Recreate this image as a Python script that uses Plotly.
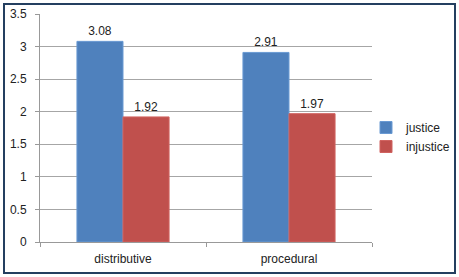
import plotly.graph_objects as go

categories = ["distributive", "procedural"]
justice = [3.08, 2.91]
injustice = [1.92, 1.97]
justice_labels = ["3.08", "2.91"]
injustice_labels = ["1.92", "1.97"]

W, H = 459, 277
# plot area in pixels
X0, X1, Y0, Y1 = 40, 372, 14, 242

def px_x(v):
    return v / W

def px_y(v):
    return (H - v) / H

fig = go.Figure()
fig.add_trace(go.Bar(x=categories, y=justice, name="justice", text=justice_labels,
                     textposition="outside", cliponaxis=False,
                     marker=dict(color="#4F81BD", line=dict(color="#6A9AD3", width=1)),
                     textfont=dict(size=12, color="#222")))
fig.add_trace(go.Bar(x=categories, y=injustice, name="injustice", text=injustice_labels,
                     textposition="outside", cliponaxis=False,
                     marker=dict(color="#C0504D", line=dict(color="#D06360", width=1)),
                     textfont=dict(size=12, color="#222")))

fig.update_layout(
    width=W, height=H,
    margin=dict(l=0, r=0, t=0, b=0, autoexpand=False),
    paper_bgcolor="white", plot_bgcolor="white",
    barmode="group", bargap=0.445, bargroupgap=0,
    font=dict(family="Liberation Sans, Arial, sans-serif", size=12, color="#222"),
    showlegend=True,
    legend=dict(x=px_x(366), y=px_y(137), xanchor="left", yanchor="middle",
                font=dict(size=12), tracegroupgap=0, itemwidth=30,
                bgcolor="rgba(0,0,0,0)"),
    xaxis=dict(domain=[px_x(X0), px_x(X1)], automargin=False,
               tickson="boundaries", ticks="outside", ticklen=4, tickcolor="#999",
               showline=True, linecolor="#999", linewidth=1, showgrid=False,
               ticklabelstandoff=6, tickfont=dict(size=12)),
    yaxis=dict(domain=[px_y(Y1), px_y(Y0)], automargin=False,
               range=[0, 3.5], dtick=0.5, ticks="outside", ticklen=4, tickcolor="#999",
               showline=True, linecolor="#999", linewidth=1, ticklabelstandoff=6,
               showgrid=True, gridcolor="#A6A6A6", gridwidth=1, zeroline=False,
               tickfont=dict(size=12)),
    shapes=[dict(type="rect", xref="paper", yref="paper",
                 x0=px_x(4), x1=px_x(455), y0=px_y(273), y1=px_y(4),
                 line=dict(color="#243F60", width=2), fillcolor="rgba(0,0,0,0)")],
)

fig.write_html(
    "out.html",
    config={"displayModeBar": False},
    post_script="document.body.style.margin='0';document.body.style.overflow='hidden';"
                "document.documentElement.style.overflow='hidden';",
)
